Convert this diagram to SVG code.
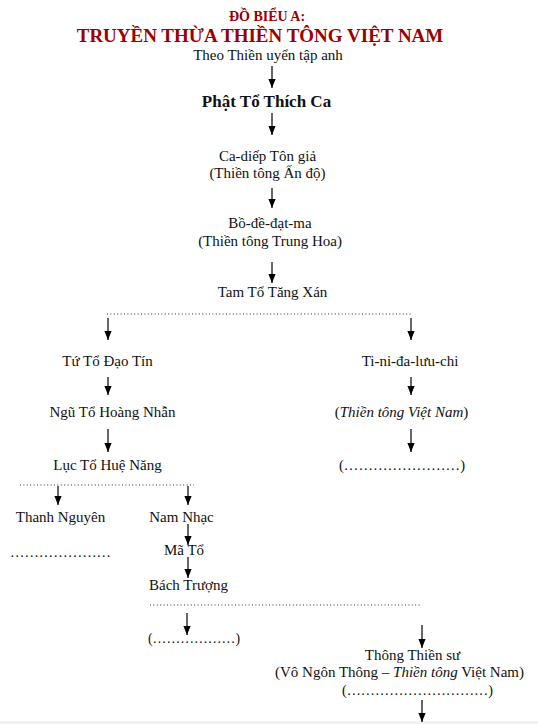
<svg xmlns="http://www.w3.org/2000/svg" width="538" height="724" viewBox="0 0 538 724">
<style>
text{font-family:"Liberation Serif","Times New Roman",serif;font-size:15px;fill:#111;text-anchor:middle}
.t{fill:#990000;font-weight:bold;font-size:14px}
.b{font-weight:bold;font-size:17px}
.i{font-style:italic}
.l{text-anchor:start}
.a{stroke:#000;stroke-width:1.2;fill:none;marker-end:url(#ah)}
.d{stroke:#333;stroke-width:1;stroke-dasharray:1 2.4;fill:none}
</style>
<defs>
<marker id="ah" viewBox="0 -4 9 8" refX="9" refY="0" markerWidth="9" markerHeight="8" markerUnits="userSpaceOnUse" orient="auto">
<path d="M0,-3.6 L9,0 L0,3.6 z" fill="#000"/>
</marker>
</defs>
<rect width="538" height="724" fill="#fff"/>
<rect y="721" width="538" height="3" fill="#f1f1f1"/>
<g id="title">
<text class="t" x="267" y="21">ĐỒ BIỂU A:</text>
<text class="t" x="260" y="42" style="font-size:19px">TRUYỀN THỪA THIỀN TÔNG VIỆT NAM</text>
<text x="268" y="60">Theo Thiền uyển tập anh</text>
</g>
<g id="connectors">
<line class="a" x1="272" y1="66" x2="272" y2="88"/>
<line class="a" x1="272" y1="113" x2="272" y2="135"/>
<line class="a" x1="272" y1="188" x2="272" y2="208"/>
<line class="a" x1="272" y1="262" x2="272" y2="283"/>
<line class="d" x1="107" y1="314" x2="413" y2="314"/>
<line class="a" x1="108" y1="318" x2="108" y2="340"/>
<line class="a" x1="411" y1="318" x2="411" y2="340"/>
<line class="a" x1="108" y1="377" x2="108" y2="395"/>
<line class="a" x1="411" y1="377" x2="411" y2="395"/>
<line class="a" x1="108" y1="429" x2="108" y2="452"/>
<line class="a" x1="411" y1="429" x2="411" y2="452"/>
<line class="d" x1="20" y1="485" x2="194" y2="485"/>
<line class="a" x1="58" y1="486" x2="58" y2="505"/>
<line class="a" x1="188" y1="486" x2="188" y2="505"/>
<line class="a" x1="188" y1="524" x2="188" y2="545"/>
<line class="a" x1="188" y1="557" x2="188" y2="578"/>
<line class="d" x1="150" y1="605" x2="421" y2="605"/>
<line class="a" x1="187" y1="613" x2="187" y2="635"/>
<line class="a" x1="422" y1="625" x2="422" y2="648"/>
<line class="a" x1="422" y1="700" x2="422" y2="722"/>
</g>
<g id="phat"><text class="b" x="266.5" y="107">Phật Tổ Thích Ca</text></g>
<g id="cadiep"><text x="267.5" y="161">Ca-diếp Tôn giả</text><text x="267.5" y="178">(Thiền tông Ấn độ)</text></g>
<g id="bodedatma"><text x="270" y="228">Bồ-đề-đạt-ma</text><text x="270" y="246">(Thiền tông Trung Hoa)</text></g>
<g id="tamto"><text x="272.5" y="297">Tam Tổ Tăng Xán</text></g>
<g id="tuto"><text x="107.5" y="366">Tứ Tổ Đạo Tín</text></g>
<g id="tinida"><text x="410" y="366">Ti-ni-đa-lưu-chi</text></g>
<g id="ngutoo"><text x="112.5" y="417">Ngũ Tổ Hoàng Nhẫn</text></g>
<g id="thientongvn"><text x="401.5" y="417">(<tspan class="i">Thiền tông Việt Nam</tspan>)</text></g>
<g id="lucto"><text x="107.5" y="470">Lục Tổ Huệ Năng</text></g>
<g id="right-dots"><text class="l" x="339" y="470" textLength="126" lengthAdjust="spacingAndGlyphs">(……………………)</text></g>
<g id="thanhnguyen"><text x="60.5" y="522">Thanh Nguyên</text><text class="l" x="10" y="557" textLength="101" lengthAdjust="spacingAndGlyphs">…………………</text></g>
<g id="namnhac"><text x="181.5" y="522">Nam Nhạc</text></g>
<g id="mato"><text x="184" y="555">Mã Tổ</text></g>
<g id="bachtruong"><text x="188.5" y="590">Bách Trượng</text></g>
<g id="left-dots2"><text class="l" x="148" y="643" textLength="92" lengthAdjust="spacingAndGlyphs">(………………)</text></g>
<g id="thongthien"><text x="412.5" y="660">Thông Thiền sư</text><text x="399.5" y="677">(Vô Ngôn Thông – <tspan class="i">Thiền tông</tspan> Việt Nam)</text><text class="l" x="342" y="695" textLength="151" lengthAdjust="spacingAndGlyphs">(…………………………)</text></g>
</svg>
